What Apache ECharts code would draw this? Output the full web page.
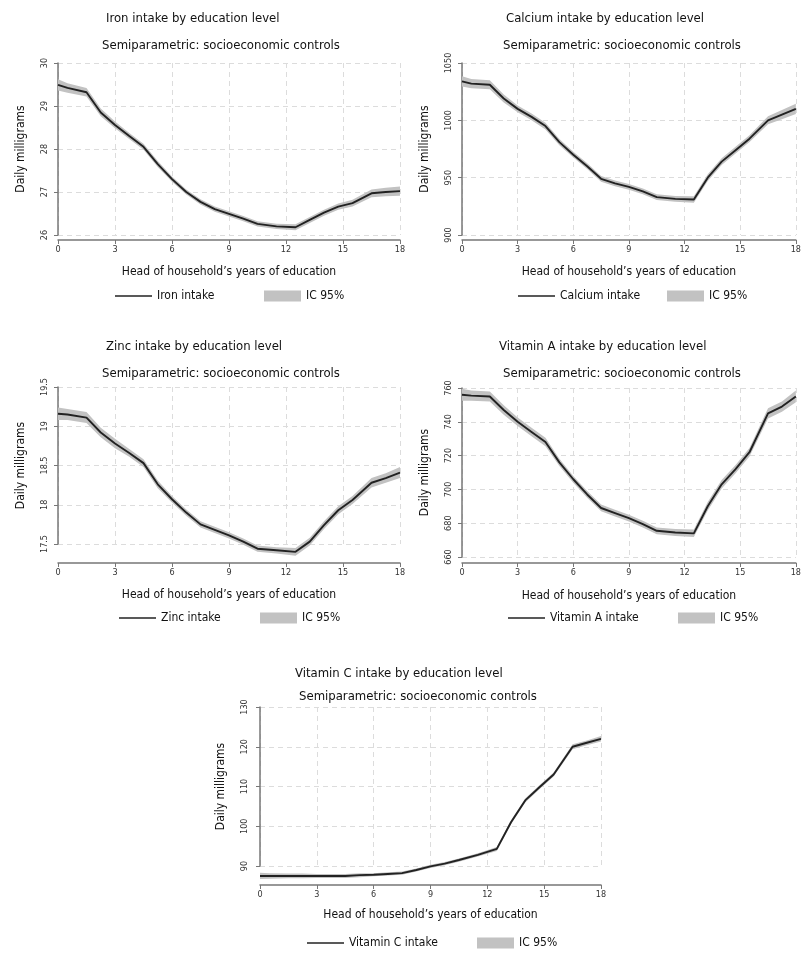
<!DOCTYPE html>
<html>
<head>
<meta charset="utf-8">
<title>Nutrient intake by education level</title>
<script src="https://cdn.jsdelivr.net/npm/echarts@6/dist/echarts.min.js"></script>
<style>
html, body { margin: 0; padding: 0; background: #fff; }
#chart { width: 804px; height: 953px; }
</style>
</head>
<body>
<div id="chart"></div>
<script>
// years of education of the head of household (x values shared by all panels)
const years = [0, 0.5, 1.5, 2.25, 3, 3.75, 4.5, 5.25, 6, 6.75, 7.5, 8.25, 9, 9.75, 10.5, 11.5, 12.5, 13.25, 14, 14.75, 15.5, 16.5, 17.25, 18];

// fitted daily intake + half width of the 95% band
const ironIntake = [29.49, 29.42, 29.32, 28.85, 28.56, 28.30, 28.05, 27.65, 27.30, 27.00, 26.77, 26.60, 26.49, 26.38, 26.26, 26.20, 26.18, 26.35, 26.52, 26.66, 26.74, 26.97, 27.00, 27.02];
const ironCI = [0.13, 0.11, 0.10, 0.09, 0.08, 0.07, 0.07, 0.07, 0.06, 0.06, 0.06, 0.06, 0.06, 0.06, 0.06, 0.06, 0.07, 0.07, 0.07, 0.07, 0.08, 0.09, 0.10, 0.11];

const calciumIntake = [1034, 1032, 1031, 1019, 1010, 1003, 995, 981, 970, 960, 949, 945, 942, 938, 933, 931.5, 931, 950, 964, 974, 984, 1000, 1005, 1010];
const calciumCI = [4.5, 4, 4, 3.5, 3, 3, 3, 2.8, 2.5, 2.5, 2.5, 2.5, 2.5, 2.5, 2.5, 2.5, 2.8, 3, 3, 3, 3, 3.5, 4, 4.5];

const zincIntake = [19.16, 19.15, 19.11, 18.92, 18.78, 18.66, 18.53, 18.26, 18.07, 17.90, 17.75, 17.68, 17.61, 17.53, 17.44, 17.42, 17.40, 17.53, 17.74, 17.93, 18.06, 18.28, 18.34, 18.41];
const zincCI = [0.08, 0.07, 0.07, 0.06, 0.06, 0.05, 0.05, 0.05, 0.04, 0.04, 0.04, 0.04, 0.04, 0.04, 0.04, 0.04, 0.05, 0.05, 0.05, 0.05, 0.05, 0.06, 0.06, 0.07];

const vitAIntake = [756, 755.5, 755, 747, 740, 734, 728, 716, 706, 697, 689, 686, 683, 679.5, 675.5, 674.5, 674, 690, 703, 712, 722, 745, 749, 755];
const vitACI = [3.5, 3, 3, 2.8, 2.5, 2.5, 2.5, 2.2, 2, 2, 2, 2, 2, 2, 2, 2, 2.2, 2.5, 2.5, 2.5, 2.5, 3, 3, 3.5];

const vitCIntake = [87.5, 87.5, 87.5, 87.5, 87.5, 87.5, 87.5, 87.7, 87.8, 88.0, 88.2, 89.0, 89.9, 90.6, 91.5, 92.8, 94.3, 101, 106.5, 109.8, 113, 120, 121, 122];
const vitCCI = [0.8, 0.7, 0.6, 0.6, 0.5, 0.5, 0.5, 0.5, 0.4, 0.4, 0.4, 0.4, 0.4, 0.4, 0.4, 0.4, 0.5, 0.5, 0.5, 0.5, 0.5, 0.6, 0.6, 0.7];

const ironTicks = [26, 27, 28, 29, 30];
const calciumTicks = [900, 950, 1000, 1050];
const zincTicks = [17.5, 18, 18.5, 19, 19.5];
const vitATicks = [660, 680, 700, 720, 740, 760];
const vitCTicks = [90, 100, 110, 120, 130];

const subtitle = 'Semiparametric: socioeconomic controls';
const xName = 'Head of household\u2019s years of education';
const yName = 'Daily milligrams';
const bandName = 'IC 95%';

const FONT = '"Liberation Sans Narrow", "DejaVu Sans Condensed", sans-serif';
const LINE = '#222';
const BAND = '#c2c2c2';

// layout of the five panels; leg = [line key left, band key left, keys top]
const panels = [
    { title: 'Iron intake by education level', label: 'Iron intake', values: ironIntake, ci: ironCI, ticks: ironTicks,
      grid: { left: 58, top: 63, width: 342, height: 172 }, xOff: 5, yOff: 5, xGap: 26,
      t1: [106, 12], t2: [102, 39], leg: [115, 264, 290] },
    { title: 'Calcium intake by education level', label: 'Calcium intake', values: calciumIntake, ci: calciumCI, ticks: calciumTicks,
      grid: { left: 462, top: 63, width: 340, height: 172 }, xOff: 5, yOff: 5, xGap: 26,
      t1: [506, 12], t2: [503, 39], leg: [518, 667, 290] },
    { title: 'Zinc intake by education level', label: 'Zinc intake', values: zincIntake, ci: zincCI, ticks: zincTicks,
      grid: { left: 58, top: 387, width: 342, height: 157 }, xOff: 19, yOff: 5, xGap: 26,
      t1: [106, 340], t2: [102, 367], leg: [119, 260, 612] },
    { title: 'Vitamin A intake by education level', label: 'Vitamin A intake', values: vitAIntake, ci: vitACI, ticks: vitATicks,
      grid: { left: 462, top: 388, width: 340, height: 169 }, xOff: 6, yOff: 5, xGap: 27,
      t1: [499, 340], t2: [503, 367], leg: [508, 678, 612] },
    { title: 'Vitamin C intake by education level', label: 'Vitamin C intake', values: vitCIntake, ci: vitCCI, ticks: vitCTicks,
      grid: { left: 260, top: 707, width: 341, height: 159 }, xOff: 19, yOff: 7, xGap: 24,
      t1: [295, 667], t2: [299, 690], leg: [307, 477, 937] }
];

const titles = [], grids = [], xAxes = [], yAxes = [], legends = [], series = [];
const legendText = { fontFamily: FONT, fontSize: 12, color: '#111' };

panels.forEach((p, i) => {
    const tStyle = { fontFamily: FONT, fontSize: 13, fontWeight: 'normal', color: '#111' };
    titles.push({ text: p.title, left: p.t1[0], top: p.t1[1], padding: 0, textStyle: tStyle });
    titles.push({ text: subtitle, left: p.t2[0], top: p.t2[1], padding: 0, textStyle: tStyle });
    grids.push(Object.assign({ containLabel: false }, p.grid));

    const tk = p.ticks;
    xAxes.push({
        type: 'value', gridIndex: i, min: 0, max: 18, interval: 3, offset: p.xOff,
        name: xName, nameLocation: 'middle', nameGap: p.xGap,
        nameTextStyle: { fontFamily: FONT, fontSize: 12, color: '#111' },
        axisLine: { show: true, lineStyle: { color: '#777', width: 1.5 } },
        axisTick: { show: true, length: 4, lineStyle: { color: '#777' } },
        axisLabel: { fontFamily: FONT, fontSize: 9, color: '#333', margin: 5 },
        splitLine: { show: true, lineStyle: { color: '#dcdcdc', type: [5, 4] } }
    });
    yAxes.push({
        type: 'value', gridIndex: i, min: tk[0], max: tk[tk.length - 1], interval: tk[1] - tk[0], offset: p.yOff,
        name: yName, nameLocation: 'middle', nameGap: 26,
        nameTextStyle: { fontFamily: FONT, fontSize: 12, color: '#111' },
        axisLine: { show: true, lineStyle: { color: '#777', width: 1.5 } },
        axisTick: { show: true, length: 4, lineStyle: { color: '#777' } },
        axisLabel: { fontFamily: FONT, fontSize: 9, color: '#333', rotate: 90, margin: 4, formatter: v => String(v) },
        splitLine: { show: true, lineStyle: { color: '#dcdcdc', type: [5, 4] } }
    });

    // line key and band key sit in two separate legends so each can be placed
    legends.push({
        left: p.leg[0], top: p.leg[2], padding: 0, itemWidth: 37, itemHeight: 11,
        selectedMode: false, textStyle: legendText,
        data: [{ name: p.label, icon: 'path://M0,0L37,0L37,1.6L0,1.6Z', itemStyle: { color: LINE } }]
    });
    legends.push({
        left: p.leg[1], top: p.leg[2], padding: 0, itemWidth: 37, itemHeight: 11,
        selectedMode: false, textStyle: legendText,
        data: [{ name: bandName, icon: 'rect', itemStyle: { color: BAND } }]
    });

    const band = years.map((x, j) => [x, p.values[j] - p.ci[j], p.values[j] + p.ci[j]]);
    series.push({
        type: 'custom', name: bandName, xAxisIndex: i, yAxisIndex: i, silent: true, clip: false,
        data: band, encode: { x: 0, y: [1, 2] },
        itemStyle: { color: BAND },
        renderItem: (params, api) => {
            if (params.dataIndex !== 0) return null;
            const lowPts = band.map(d => api.coord([d[0], d[1]]));
            const highPts = band.map(d => api.coord([d[0], d[2]])).reverse();
            return { type: 'polygon', shape: { points: lowPts.concat(highPts) }, style: { fill: BAND } };
        }
    });
    series.push({
        type: 'line', name: p.label, xAxisIndex: i, yAxisIndex: i,
        data: years.map((x, j) => [x, p.values[j]]), symbol: 'none', clip: false,
        lineStyle: { color: LINE, width: 1.9 }, itemStyle: { color: LINE }
    });
});

const chart = echarts.init(document.getElementById('chart'), null, { renderer: 'canvas' });
chart.setOption({
    backgroundColor: '#fff',
    animation: false,
    title: titles,
    grid: grids,
    xAxis: xAxes,
    yAxis: yAxes,
    legend: legends,
    series: series
});
</script>
</body>
</html>
